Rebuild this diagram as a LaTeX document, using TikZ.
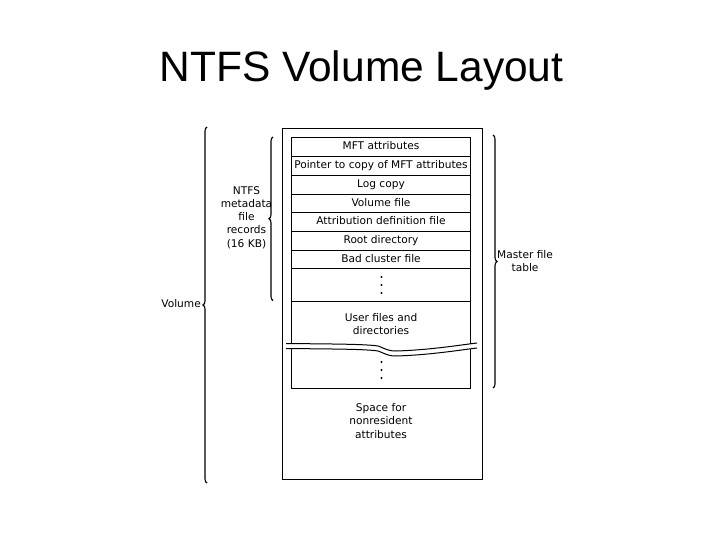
\documentclass[tikz,border=0pt]{standalone}
\usepackage{fontspec}
\setmainfont{DejaVu Sans}
\newfontfamily\titlefont{Liberation Sans}
\usetikzlibrary{decorations.pathreplacing}
\tikzset{
  rowtext/.style={inner sep=0pt, text height=7.8pt, text depth=2.2pt, font=\fontsize{10.6}{13}\selectfont},
  tableline/.style={draw, line width=1pt},
  lbl/.style={inner sep=0pt, align=center, font=\fontsize{10.6}{13.3}\selectfont},
  bracestyle/.style={draw, line width=1.1pt, decorate, decoration={brace, amplitude=4pt}},
  boxline/.style={draw, line width=1.2pt},
}
\begin{document}
\begin{tikzpicture}[x=1pt,y=-1pt]
\useasboundingbox (0,0) rectangle (720,540);
% title
\node[anchor=base, inner sep=0pt, font=\titlefont\fontsize{42.5}{50}\selectfont] (title) at (361.5,82) {NTFS Volume Layout};
% outer volume box
\node[boxline, minimum width=200, minimum height=351, inner sep=0pt] (vol) at (382.5,304) {};
% table outline and row lines (snapped to pixel centres)
\draw[tableline] (291.5,137.5) rectangle (470.5,388.5);
\foreach \yy in {156.5,175.5,194.5,212.5,231.5,250.5,268.5,301.5}
  \draw[tableline] (291.5,\yy) -- (470.5,\yy);
% row texts
\foreach \i/\t/\yc in {0/MFT attributes/147, 1/Pointer to copy of MFT attributes/166, 2/Log copy/185,
  3/Volume file/203.5, 4/Attribution definition file/222, 5/Root directory/241, 6/Bad cluster file/259.5} {
  \node[rowtext] (r\i) at (381, \yc) {\t};
}
% dots
\foreach \yy in {277,285,293} \fill (381.5,\yy) circle (1.1);
\foreach \yy in {362,370,378} \fill (381.5,\yy) circle (1.1);
\node[lbl] (usertext) at (381,324) {User files and\\directories};
% break
\fill[white] (286,343.5) .. controls (330,344) and (365,344) .. (378,346) .. controls (386,349) and (388,351) .. (396,351) .. controls (430,350) and (460,345) .. (477,343)
  -- (477,348) .. controls (460,350) and (430,355) .. (396,356) .. controls (388,356) and (386,354) .. (378,351) .. controls (365,349) and (330,349) .. (286,348.5) -- cycle;
\draw[line width=1pt] (286,343.5) .. controls (330,344) and (365,344) .. (378,346) .. controls (386,349) and (388,351) .. (396,351) .. controls (430,350) and (460,345) .. (477,343);
\draw[line width=1pt] (286,348.5) .. controls (330,349) and (365,349) .. (378,351) .. controls (386,354) and (388,356) .. (396,356) .. controls (430,355) and (460,350) .. (477,348);
% space label
\node[lbl] (space) at (381,421) {Space for\\nonresident\\attributes};
% braces
\coordinate (mtop) at (273,137);
\coordinate (mbot) at (273,300.5);
\draw[bracestyle] (mbot) -- (mtop);
\node[lbl, anchor=center] (meta) at (246.5,218) {NTFS\strut\\metadata\strut\\file\strut\\records\strut\\(16 KB)\strut};
\coordinate (vtop) at (207,127);
\coordinate (vbot) at (207,483);
\draw[bracestyle] (vbot) -- (vtop);
\node[lbl, anchor=east] (vollbl) at (201,304) {Volume};
\coordinate (ftop) at (493,135);
\coordinate (fbot) at (493,388);
\draw[bracestyle] (ftop) -- (fbot);
\node[lbl, anchor=west] (mft) at (497,261) {Master file\\table};
\end{tikzpicture}
\end{document}
